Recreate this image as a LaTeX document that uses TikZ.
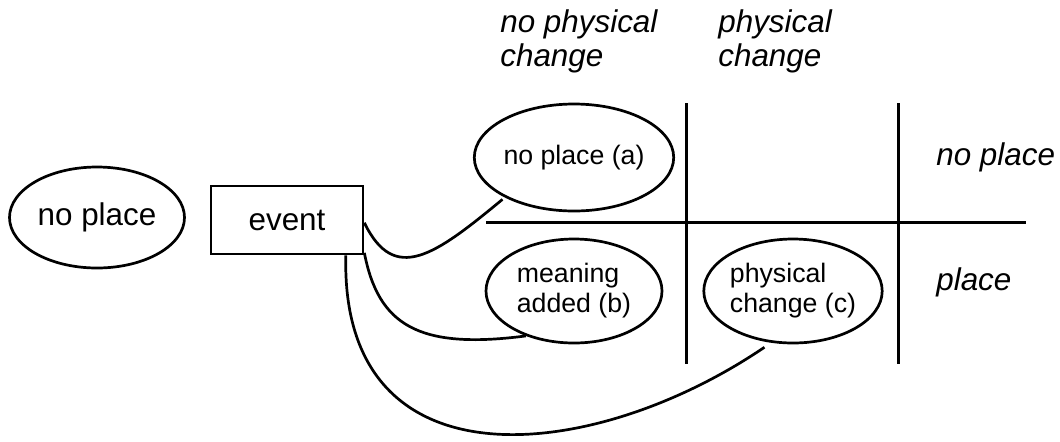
\documentclass[tikz,border=0pt]{standalone}
\usepackage{fontspec}
\setmainfont{Liberation Sans}
\usetikzlibrary{shapes.geometric}
\begin{document}
\begin{tikzpicture}[x=0.5pt,y=-0.5pt,line width=1.35pt,
  bigtxt/.style={font=\fontsize{15.7}{17}\selectfont},
  smalltxt/.style={font=\fontsize{13.35}{15}\selectfont},
  hdr/.style={font=\fontsize{15.7}{17}\selectfont\itshape,inner sep=0pt,align=left},
  oval/.style={draw,ellipse,inner sep=0pt},
  evbox/.style={draw,rectangle,inner sep=0pt,minimum width=76pt,minimum height=34pt},
  gridline/.style={line width=1.35pt},
  link/.style={line width=1.35pt}]
\useasboundingbox (0,0) rectangle (1060,441);
% left ellipse and event box
\node[oval,bigtxt,minimum width=87.5pt,minimum height=50.5pt] (np) at (97,217.5) {no place};
\node[evbox,bigtxt] (ev) at (287,220) {event};
% ellipses in the grid
\node[oval,smalltxt,minimum width=88pt,minimum height=53.5pt] (a) at (574,157.5) {no place (a)};
\node[oval,smalltxt,align=left,minimum width=88pt,minimum height=52pt] (b) at (574,291) {meaning\\added (b)};
\node[oval,smalltxt,align=left,minimum width=87.5pt,minimum height=52pt] (c) at (793,291) {physical\\change (c)};
% headers
\node[hdr,anchor=base west] (h1) at (499,66) {no physical\\change};
\node[hdr,anchor=base west] (h2) at (717,66) {physical\\change};
\node[hdr,anchor=base west] (r1) at (935,165) {no place};
\node[hdr,anchor=base west] (r2) at (935,290) {place};
% grid lines
\draw[gridline] (486,222.5) -- (1025.7,222.5);
\draw[gridline] (686.7,103.3) -- (686.7,364);
\draw[gridline] (898.7,103.3) -- (898.7,364);
% connectors
\draw[link,shorten >=1.5pt] (ev.-2) .. controls +(30,62) and +(-70,58) .. (a.210);
\draw[link] (ev.-23) .. controls +(14,72) and +(-108,14) .. (b.223);
\draw[link,shorten >=4pt] (ev.-31) .. controls +(-6,236) and +(-178,121) .. (c.247);
\end{tikzpicture}
\end{document}
